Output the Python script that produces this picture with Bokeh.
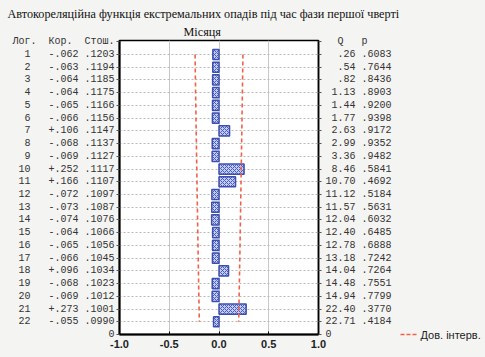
from bokeh.plotting import figure
from bokeh.models import Range1d, FixedTicker, LinearAxis, Title, ColumnDataSource
from bokeh.embed import file_html
from bokeh.resources import INLINE

# ---- data ----
lags = list(range(1, 23))
corr = [-0.062, -0.063, -0.064, -0.064, -0.065, -0.066, 0.106, -0.068, -0.069,
        0.252, 0.166, -0.072, -0.073, -0.074, -0.064, -0.065, -0.066, 0.096,
        -0.068, -0.069, 0.273, -0.055]
stderr = [.1203, .1194, .1185, .1175, .1166, .1156, .1147, .1137, .1127, .1117,
          .1107, .1097, .1087, .1076, .1066, .1056, .1045, .1034, .1023, .1012,
          .1001, .0990]
q_stat = [.26, .54, .82, 1.13, 1.44, 1.77, 2.63, 2.99, 3.36, 8.46, 10.70, 11.12,
          11.57, 12.04, 12.40, 12.78, 13.18, 14.04, 14.48, 14.94, 22.40, 22.71]
p_val = [.6083, .7644, .8436, .8903, .9200, .9398, .9172, .9352, .9482, .5841,
         .4692, .5184, .5631, .6032, .6485, .6888, .7242, .7264, .7551, .7799,
         .3770, .4184]
x_ticks = [-1.0, -0.5, 0.0, 0.5, 1.0]
x_tick_labels = ["-1.0", "-0.5", "0.0", "0.5", "1.0"]
title_1 = "Автокореляційна функція екстремальних опадів під час фази першої чверті"
title_2 = "Місяця"
left_header = "Лог.  Кор.  Стош."
right_header = "  Q   p"
legend_label = "Дов. інтерв."

BG = "#f4f4f2"
CI_COLOR = "#f0604a"
NB = "\u00a0"


def nb(s):
    return s.replace(" ", NB)


def f_corr(v):
    return f"{v:+.3f}".replace("0.", ".")


def f_4(v):
    return f"{v:.4f}"[1:]


def f_q(v):
    s = f"{v:.2f}"
    if s.startswith("0"):
        s = s[1:]
    return s.rjust(5)


left_labels = {0: nb(left_header), 23: "0"}
right_labels = {0: nb(right_header), 23: "0"}
for k, c, s, q, pv in zip(lags, corr, stderr, q_stat, p_val):
    left_labels[k] = nb(f"{k:>3}   {f_corr(c)} {f_4(s)}")
    right_labels[k] = nb(f"{f_q(q)} {f_4(pv)}")

ci_hi = [2 * s for s in stderr]
ci_lo = [-2 * s for s in stderr]

src = ColumnDataSource(dict(lag=lags, corr=corr, zero=[0] * len(lags)))

p = figure(frame_width=199, frame_height=294, output_backend="svg",
           toolbar_location=None, title=None,
           x_range=Range1d(-1, 1), y_range=Range1d(23, -0.1),
           min_border_left=119, min_border_right=167, min_border_top=40,
           min_border_bottom=23)
p.border_fill_color = BG
p.background_fill_color = "white"
p.outline_line_color = "black"
p.outline_line_width = 1.5

p.xgrid.ticker = FixedTicker(ticks=x_ticks)
p.xgrid.grid_line_color = "#c8c8c8"
p.xgrid.grid_line_width = 1
p.ygrid.ticker = FixedTicker(ticks=lags)
p.ygrid.grid_line_color = "#b8b8b8"
p.ygrid.grid_line_dash = "2 2"
p.ygrid.grid_line_width = 1

p.hbar(y="lag", left="zero", right="corr", height=0.8, source=src,
       fill_color="#c3ccf0", line_color="#3c4fb0", line_width=1.5,
       hatch_pattern="x", hatch_color="#4a5cc0", hatch_scale=4, hatch_weight=1)

p.line(ci_lo, lags, line_color=CI_COLOR, line_dash="4 3", line_width=1.6)
p.line(ci_hi, lags, line_color=CI_COLOR, line_dash="4 3", line_width=1.6)

mono = "Liberation Mono"

ya = p.yaxis[0]
ya.ticker = FixedTicker(ticks=list(range(0, 24)))
ya.major_label_overrides = left_labels
ya.major_label_text_font = mono
ya.major_label_text_font_size = "10px"
ya.major_label_text_color = "#333333"
ya.major_tick_out = 3
ya.major_tick_in = 0
ya.minor_tick_out = 0
ya.minor_tick_in = 0
ya.major_label_standoff = 2
ya.axis_line_width = 2
ya.axis_line_color = "black"
ya.major_tick_line_color = "#555555"

ra = LinearAxis(ticker=FixedTicker(ticks=list(range(0, 24))))
ra.major_label_overrides = right_labels
ra.major_label_text_font = mono
ra.major_label_text_font_size = "10px"
ra.major_label_text_color = "#333333"
ra.major_tick_out = 3
ra.major_tick_in = 0
ra.minor_tick_out = 0
ra.minor_tick_in = 0
ra.major_label_standoff = 4
ra.axis_line_width = 1.5
ra.axis_line_color = "black"
ra.major_tick_line_color = "#555555"
p.add_layout(ra, "right")

# legend entry drawn as a second right-hand axis: red dashed tick + label
la = LinearAxis(ticker=FixedTicker(ticks=[23]))
la.major_label_overrides = {23: legend_label}
la.major_label_text_font = "Liberation Sans"
la.major_label_text_font_size = "11px"
la.major_label_text_color = "#222222"
la.axis_line_color = None
la.major_tick_out = 22
la.major_tick_in = 0
la.minor_tick_out = 0
la.minor_tick_in = 0
la.major_tick_line_color = CI_COLOR
la.major_tick_line_width = 1.6
la.major_tick_line_dash = "4 2 4 2 4 8"
la.major_label_standoff = 4
p.add_layout(la, "right")

xa = p.xaxis[0]
xa.ticker = FixedTicker(ticks=x_ticks)
xa.major_label_overrides = dict(zip(x_ticks, x_tick_labels))
xa.major_label_text_font = "Liberation Sans"
xa.major_label_text_font_style = "bold"
xa.major_label_text_font_size = "11px"
xa.major_label_text_color = "#222222"
xa.major_tick_in = 3
xa.major_tick_out = 0
xa.minor_tick_in = 0
xa.minor_tick_out = 0
xa.major_label_standoff = 5
xa.axis_line_width = 2
xa.axis_line_color = "black"

# title, two lines (first added sits closest to the plot)
p.add_layout(Title(text=title_2, align="left", offset=64, standoff=4,
                   text_font="Liberation Serif", text_font_size="12.2px",
                   text_font_style="normal", text_color="#111111"), "above")
p.add_layout(Title(text=title_1, align="left", offset=-112, standoff=0,
                   text_font="Liberation Serif", text_font_size="12.2px",
                   text_font_style="normal", text_color="#111111"), "above")

html = file_html(p, INLINE)
html = html.replace("</head>", "<style>body{background:#f4f4f2;}</style></head>", 1)
open("out.html", "w").write(html)
